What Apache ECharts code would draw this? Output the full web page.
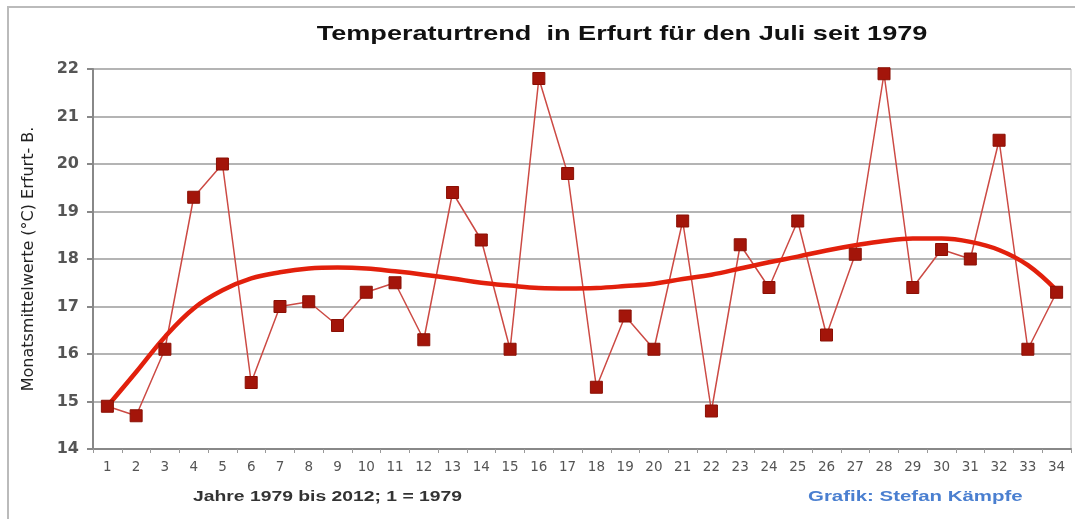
<!DOCTYPE html>
<html>
<head>
<meta charset="utf-8">
<script src="https://cdn.jsdelivr.net/npm/echarts@6/dist/echarts.min.js"></script>
<style>
html,body{margin:0;padding:0;background:#fff;}
#c{width:1075px;height:519px;}
</style>
</head>
<body>
<div id="c"></div>
<script>
var categories = ['1','2','3','4','5','6','7','8','9','10','11','12','13','14','15','16','17','18','19','20','21','22','23','24','25','26','27','28','29','30','31','32','33','34'];
var temperatures = [14.9,14.7,16.1,19.3,20.0,15.4,17.0,17.1,16.6,17.3,17.5,16.3,19.4,18.4,16.1,21.8,19.8,15.3,16.8,16.1,18.8,14.8,18.3,17.4,18.8,16.4,18.1,21.9,17.4,18.2,18.0,20.5,16.1,17.3];
var trend = [14.9,15.62,16.36,16.96,17.34,17.59,17.72,17.80,17.82,17.80,17.74,17.67,17.59,17.50,17.44,17.39,17.38,17.39,17.43,17.48,17.58,17.67,17.80,17.93,18.05,18.18,18.29,18.38,18.43,18.43,18.36,18.19,17.87,17.34];
var yTicks = [14,15,16,17,18,19,20,21,22];

var chart = echarts.init(document.getElementById('c'), null, {renderer:'canvas'});
chart.setOption({
  animation:false,
  backgroundColor:'#fff',
  grid:{left:93, right:4, top:69, bottom:70, show:true, borderColor:'#bbb', borderWidth:1, backgroundColor:'transparent'},
  xAxis:{
    type:'category', data:categories, boundaryGap:true,
    axisLine:{lineStyle:{color:'#888', width:2}},
    axisTick:{show:true, length:4, lineStyle:{color:'#999'}},
    axisLabel:{color:'#555', fontFamily:'DejaVu Sans', fontSize:13.5, margin:11},
    splitLine:{show:false}
  },
  yAxis:{
    type:'value', min:yTicks[0], max:yTicks[yTicks.length-1], interval:1,
    axisLine:{show:true, lineStyle:{color:'#888', width:2}},
    axisTick:{show:true, length:6, lineStyle:{color:'#888', width:2}},
    axisLabel:{color:'#555', fontFamily:'DejaVu Sans', fontWeight:'bold', fontSize:16, margin:14},
    splitLine:{show:true, lineStyle:{color:'#b4b4b4', width:2}},
    name:'Monatsmittelwerte (°C) Erfurt- B.',
    nameLocation:'middle', nameGap:56, nameRotate:90,
    nameTextStyle:{color:'#222', fontFamily:'DejaVu Sans', fontSize:16}
  },
  series:[
    {type:'line', data:temperatures, symbol:'none', z:2,
     lineStyle:{color:'#cc4a44', width:1.5}},
    {type:'line', data:trend, smooth:0.4, symbol:'none', z:3,
     lineStyle:{color:'#e2200c', width:4.5}},
    {type:'scatter', data:temperatures, symbol:'rect', symbolSize:12, z:4,
     itemStyle:{color:'#a3150a', borderColor:'#8a1005', borderWidth:1, opacity:1}}
  ],
  graphic:[
    {type:'rect', shape:{x:8, y:7, width:1090, height:530}, style:{fill:'none', stroke:'#bbb', lineWidth:2}, z:-1},
    {type:'text', x:622, y:34, scaleX:1.29, z:10,
     style:{text:'Temperaturtrend  in Erfurt für den Juli seit 1979', fill:'#111', font:'bold 21px "Liberation Sans"', textAlign:'center', textVerticalAlign:'middle'}},
    {type:'text', x:193, y:497, scaleX:1.38, z:10,
     style:{text:'Jahre 1979 bis 2012; 1 = 1979', fill:'#333', font:'bold 14px "Liberation Sans"', textAlign:'left', textVerticalAlign:'middle'}},
    {type:'text', x:808, y:497, scaleX:1.46, z:10,
     style:{text:'Grafik: Stefan Kämpfe', fill:'#4a7fd0', font:'bold 14px "Liberation Sans"', textAlign:'left', textVerticalAlign:'middle'}}
  ]
});
</script>
</body>
</html>
